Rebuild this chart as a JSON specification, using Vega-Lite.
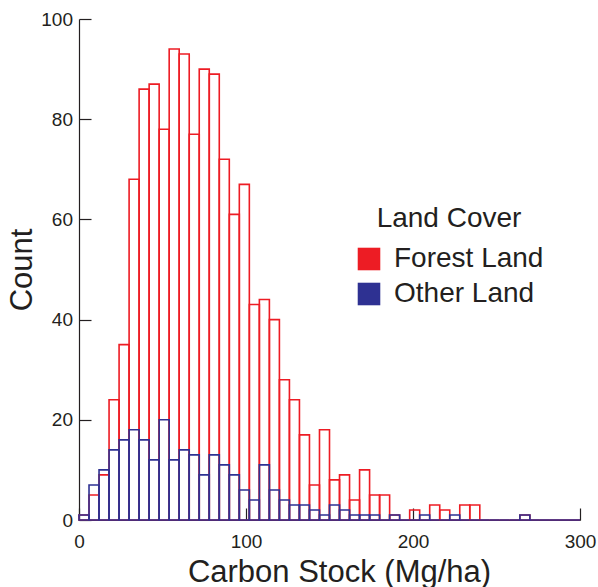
{
  "$schema": "https://vega.github.io/schema/vega-lite/v6.json",
  "width": 501,
  "height": 501,
  "autosize": {"type": "none"},
  "padding": {"left": 79, "top": 19, "right": 18, "bottom": 67},
  "background": "white",
  "config": {"view": {"stroke": null}, "font": "Liberation Sans"},
  "data": {"values": [
    {"cover":"Forest Land","start":0,"end":6,"count":1},
    {"cover":"Forest Land","start":6,"end":12,"count":5},
    {"cover":"Forest Land","start":12,"end":18,"count":9},
    {"cover":"Forest Land","start":18,"end":24,"count":24},
    {"cover":"Forest Land","start":24,"end":30,"count":35},
    {"cover":"Forest Land","start":30,"end":36,"count":68},
    {"cover":"Forest Land","start":36,"end":42,"count":86},
    {"cover":"Forest Land","start":42,"end":48,"count":87},
    {"cover":"Forest Land","start":48,"end":54,"count":78},
    {"cover":"Forest Land","start":54,"end":60,"count":94},
    {"cover":"Forest Land","start":60,"end":66,"count":93},
    {"cover":"Forest Land","start":66,"end":72,"count":77},
    {"cover":"Forest Land","start":72,"end":78,"count":90},
    {"cover":"Forest Land","start":78,"end":84,"count":89},
    {"cover":"Forest Land","start":84,"end":90,"count":72},
    {"cover":"Forest Land","start":90,"end":96,"count":61},
    {"cover":"Forest Land","start":96,"end":102,"count":67},
    {"cover":"Forest Land","start":102,"end":108,"count":43},
    {"cover":"Forest Land","start":108,"end":114,"count":44},
    {"cover":"Forest Land","start":114,"end":120,"count":40},
    {"cover":"Forest Land","start":120,"end":126,"count":28},
    {"cover":"Forest Land","start":126,"end":132,"count":24},
    {"cover":"Forest Land","start":132,"end":138,"count":17},
    {"cover":"Forest Land","start":138,"end":144,"count":7},
    {"cover":"Forest Land","start":144,"end":150,"count":18},
    {"cover":"Forest Land","start":150,"end":156,"count":8},
    {"cover":"Forest Land","start":156,"end":162,"count":9},
    {"cover":"Forest Land","start":162,"end":168,"count":4},
    {"cover":"Forest Land","start":168,"end":174,"count":10},
    {"cover":"Forest Land","start":174,"end":180,"count":5},
    {"cover":"Forest Land","start":180,"end":186,"count":5},
    {"cover":"Forest Land","start":186,"end":192,"count":1},
    {"cover":"Forest Land","start":192,"end":198,"count":0},
    {"cover":"Forest Land","start":198,"end":204,"count":2},
    {"cover":"Forest Land","start":204,"end":210,"count":0},
    {"cover":"Forest Land","start":210,"end":216,"count":3},
    {"cover":"Forest Land","start":216,"end":222,"count":2},
    {"cover":"Forest Land","start":222,"end":228,"count":0},
    {"cover":"Forest Land","start":228,"end":234,"count":3},
    {"cover":"Forest Land","start":234,"end":240,"count":3},
    {"cover":"Forest Land","start":240,"end":246,"count":0},
    {"cover":"Forest Land","start":246,"end":252,"count":0},
    {"cover":"Forest Land","start":252,"end":258,"count":0},
    {"cover":"Forest Land","start":258,"end":264,"count":0},
    {"cover":"Forest Land","start":264,"end":270,"count":1},
    {"cover":"Forest Land","start":270,"end":276,"count":0},
    {"cover":"Forest Land","start":276,"end":282,"count":0},
    {"cover":"Forest Land","start":282,"end":288,"count":0},
    {"cover":"Forest Land","start":288,"end":294,"count":0},
    {"cover":"Forest Land","start":294,"end":300,"count":0},
    {"cover":"Other Land","start":0,"end":6,"count":1},
    {"cover":"Other Land","start":6,"end":12,"count":7},
    {"cover":"Other Land","start":12,"end":18,"count":10},
    {"cover":"Other Land","start":18,"end":24,"count":14},
    {"cover":"Other Land","start":24,"end":30,"count":16},
    {"cover":"Other Land","start":30,"end":36,"count":18},
    {"cover":"Other Land","start":36,"end":42,"count":16},
    {"cover":"Other Land","start":42,"end":48,"count":12},
    {"cover":"Other Land","start":48,"end":54,"count":20},
    {"cover":"Other Land","start":54,"end":60,"count":12},
    {"cover":"Other Land","start":60,"end":66,"count":14},
    {"cover":"Other Land","start":66,"end":72,"count":13},
    {"cover":"Other Land","start":72,"end":78,"count":9},
    {"cover":"Other Land","start":78,"end":84,"count":13},
    {"cover":"Other Land","start":84,"end":90,"count":11},
    {"cover":"Other Land","start":90,"end":96,"count":9},
    {"cover":"Other Land","start":96,"end":102,"count":6},
    {"cover":"Other Land","start":102,"end":108,"count":4},
    {"cover":"Other Land","start":108,"end":114,"count":11},
    {"cover":"Other Land","start":114,"end":120,"count":6},
    {"cover":"Other Land","start":120,"end":126,"count":4},
    {"cover":"Other Land","start":126,"end":132,"count":3},
    {"cover":"Other Land","start":132,"end":138,"count":3},
    {"cover":"Other Land","start":138,"end":144,"count":2},
    {"cover":"Other Land","start":144,"end":150,"count":1},
    {"cover":"Other Land","start":150,"end":156,"count":3},
    {"cover":"Other Land","start":156,"end":162,"count":2},
    {"cover":"Other Land","start":162,"end":168,"count":1},
    {"cover":"Other Land","start":168,"end":174,"count":1},
    {"cover":"Other Land","start":174,"end":180,"count":1},
    {"cover":"Other Land","start":180,"end":186,"count":0},
    {"cover":"Other Land","start":186,"end":192,"count":1},
    {"cover":"Other Land","start":192,"end":198,"count":0},
    {"cover":"Other Land","start":198,"end":204,"count":0},
    {"cover":"Other Land","start":204,"end":210,"count":1},
    {"cover":"Other Land","start":210,"end":216,"count":0},
    {"cover":"Other Land","start":216,"end":222,"count":0},
    {"cover":"Other Land","start":222,"end":228,"count":1},
    {"cover":"Other Land","start":228,"end":234,"count":0},
    {"cover":"Other Land","start":234,"end":240,"count":0},
    {"cover":"Other Land","start":240,"end":246,"count":0},
    {"cover":"Other Land","start":246,"end":252,"count":0},
    {"cover":"Other Land","start":252,"end":258,"count":0},
    {"cover":"Other Land","start":258,"end":264,"count":0},
    {"cover":"Other Land","start":264,"end":270,"count":1},
    {"cover":"Other Land","start":270,"end":276,"count":0},
    {"cover":"Other Land","start":276,"end":282,"count":0},
    {"cover":"Other Land","start":282,"end":288,"count":0},
    {"cover":"Other Land","start":288,"end":294,"count":0},
    {"cover":"Other Land","start":294,"end":300,"count":0}
  ]},
  "encoding": {
    "x": {
      "field": "start", "type": "quantitative",
      "scale": {"domain": [0, 300], "nice": false, "zero": false},
      "axis": {
        "title": "Carbon Stock (Mg/ha)", "values": [0, 100, 200, 300], "grid": false,
        "tickSize": -12, "labelPadding": 24, "labelFontSize": 19, "labelFlush": false,
        "titleFontSize": 31, "titleFontWeight": "normal", "titlePadding": 6, "titleX": 260,
        "domainColor": "#231f20", "tickColor": "#231f20", "labelColor": "#231f20", "titleColor": "#231f20",
        "domainWidth": 1.2, "tickWidth": 1.2
      }
    },
    "y": {
      "field": "count", "type": "quantitative", "stack": null,
      "scale": {"domain": [0, 100], "nice": false},
      "axis": {
        "title": "Count", "values": [0, 20, 40, 60, 80, 100], "grid": false,
        "tickSize": -12, "labelPadding": 18.5, "labelFontSize": 19, "labelFlush": false,
        "titleFontSize": 31, "titleFontWeight": "normal", "titlePadding": 2,
        "domainColor": "#231f20", "tickColor": "#231f20", "labelColor": "#231f20", "titleColor": "#231f20",
        "domainWidth": 1.2, "tickWidth": 1.2
      }
    }
  },
  "layer": [
    {
      "transform": [{"filter": "datum.count < 0"}],
      "mark": {"type": "square", "filled": true, "opacity": 1},
      "encoding": {
        "color": {
          "field": "cover", "type": "nominal",
          "scale": {"domain": ["Forest Land", "Other Land"], "range": ["#ed1c24", "#2e3192"]},
          "legend": {
            "orient": "none", "legendX": 276, "legendY": 186, "title": "Land Cover",
            "titleAnchor": "middle", "titleAlign": "center",
            "titleFontSize": 28, "titleFontWeight": "normal", "titleColor": "#231f20", "titlePadding": 12,
            "labelFontSize": 28, "labelColor": "#231f20", "labelOffset": 11,
            "symbolType": "square", "symbolSize": 510, "symbolStrokeWidth": 0, "rowPadding": 7, "padding": 0,
            "labelLimit": 400, "titleLimit": 400
          }
        }
      }
    },
    {
      "mark": {"type": "bar", "filled": false, "strokeWidth": 1.6, "clip": false},
      "encoding": {
        "x2": {"field": "end"},
        "y2": {"datum": 0},
        "color": {"field": "cover", "type": "nominal", "legend": null}
      }
    }
  ]
}
